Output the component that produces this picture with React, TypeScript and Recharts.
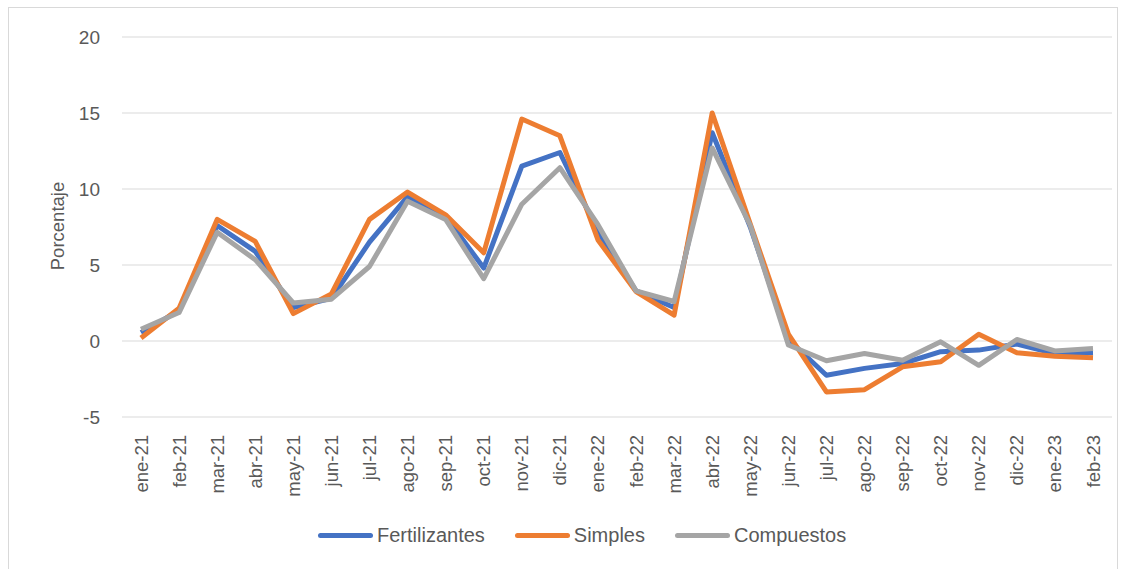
import React from 'react';
import { LineChart, Line, XAxis, YAxis, CartesianGrid } from 'recharts';

const months = ['ene-21','feb-21','mar-21','abr-21','may-21','jun-21','jul-21','ago-21','sep-21','oct-21','nov-21','dic-21','ene-22','feb-22','mar-22','abr-22','may-22','jun-22','jul-22','ago-22','sep-22','oct-22','nov-22','dic-22','ene-23','feb-23'];
const fertilizantes = [0.55, 2.0, 7.6, 5.9, 2.2, 2.8, 6.5, 9.5, 8.2, 4.8, 11.5, 12.4, 7.2, 3.3, 2.2, 13.7, 7.5, 0.1, -2.25, -1.8, -1.48, -0.7, -0.6, -0.2, -0.82, -0.77];
const simples = [0.2, 2.15, 8.0, 6.55, 1.8, 3.1, 8.0, 9.8, 8.3, 5.8, 14.6, 13.5, 6.65, 3.25, 1.7, 15.0, 7.7, 0.45, -3.35, -3.2, -1.7, -1.37, 0.45, -0.77, -1.0, -1.1];
const compuestos = [0.77, 1.87, 7.15, 5.35, 2.5, 2.75, 4.9, 9.2, 8.0, 4.1, 9.0, 11.4, 7.65, 3.3, 2.6, 12.7, 7.6, -0.26, -1.3, -0.82, -1.27, -0.05, -1.6, 0.1, -0.65, -0.5];
const yTicks = [-5, 0, 5, 10, 15, 20];

const data = months.map((m, i) => ({
  month: m,
  Fertilizantes: fertilizantes[i],
  Simples: simples[i],
  Compuestos: compuestos[i],
}));

const FONT = '"Liberation Sans", Arial, sans-serif';
const TEXT = '#595959';

const legendItems = [
  { name: 'Fertilizantes', color: '#4472C4' },
  { name: 'Simples', color: '#ED7D31' },
  { name: 'Compuestos', color: '#A5A5A5' },
];

const XTick = (props: any) => {
  const { x, y, payload } = props;
  return (
    <text
      x={x}
      y={y}
      transform={`rotate(-90 ${x} ${y})`}
      textAnchor="end"
      dominantBaseline="central"
      fill={TEXT}
      fontSize={18.5}
      fontFamily={FONT}
    >
      {payload.value}
    </text>
  );
};

export default function App() {
  return (
    <div style={{ position: 'absolute', left: 0, top: 0, width: 1132, height: 569, background: '#fff', overflow: 'hidden' }}>
      <div style={{ position: 'absolute', left: 8, top: 7, width: 1110, height: 580, border: '1px solid #D9D9D9', boxSizing: 'border-box' }} />
      <div style={{ position: 'absolute', left: 0, top: 0 }}>
        <LineChart width={1132} height={569} data={data} margin={{ top: 37, right: 20, left: 0, bottom: 0 }}>
          <CartesianGrid horizontal vertical={false} stroke="#D9D9D9" strokeWidth={1} />
          <XAxis
            dataKey="month"
            interval={0}
            axisLine={false}
            tickLine={false}
            tick={<XTick />}
            tickSize={0}
            tickMargin={18}
            height={152}
            padding={{ left: 19, right: 19 }}
          />
          <YAxis
            domain={[-5, 20]}
            ticks={yTicks}
            width={122}
            axisLine={false}
            tickLine={false}
            tickSize={0}
            tickMargin={22}
            tick={{ fill: TEXT, fontSize: 19, fontFamily: FONT }}
            label={{
              content: () => (
                <text x={57} y={226} transform="rotate(-90 57 226)" textAnchor="middle" dominantBaseline="central" fill={TEXT} fontSize={18.5} fontFamily={FONT}>
                  Porcentaje
                </text>
              ),
            }}
          />
          <Line type="linear" dataKey="Fertilizantes" stroke="#4472C4" strokeWidth={5} dot={false} isAnimationActive={false} strokeLinejoin="round" />
          <Line type="linear" dataKey="Simples" stroke="#ED7D31" strokeWidth={5} dot={false} isAnimationActive={false} strokeLinejoin="round" />
          <Line type="linear" dataKey="Compuestos" stroke="#A5A5A5" strokeWidth={5} dot={false} isAnimationActive={false} strokeLinejoin="round" />
        </LineChart>
      </div>
      <div style={{ position: 'absolute', top: 524, left: 318, display: 'flex', alignItems: 'center', fontFamily: FONT, fontSize: 20, color: TEXT, whiteSpace: 'nowrap' }}>
        {legendItems.map((it, i) => (
          <div key={it.name} style={{ display: 'flex', alignItems: 'center', marginRight: i < 2 ? 30 : 0 }}>
            <div style={{ width: 55, height: 5, borderRadius: 3, background: it.color, marginRight: 4 }} />
            <span>{it.name}</span>
          </div>
        ))}
      </div>
    </div>
  );
}
